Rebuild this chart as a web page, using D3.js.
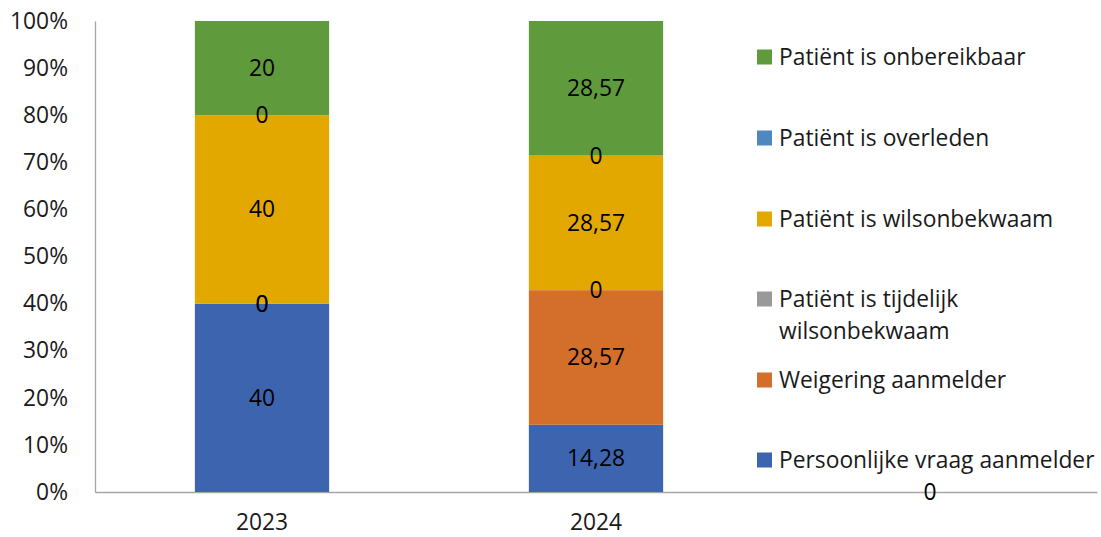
<!DOCTYPE html>
<html><head><meta charset="utf-8">
<script src="https://cdn.jsdelivr.net/npm/d3@7"></script>
<style>body{margin:0;background:#fff}svg{display:block;font-family:"Open Sans",sans-serif}</style>
</head><body><svg id="c" width="1101" height="537"></svg>
<script>
const categories = ["2023", "2024", ""];
const seriesNames = ["Persoonlijke vraag aanmelder", "Weigering aanmelder", "Patiënt is tijdelijk wilsonbekwaam", "Patiënt is wilsonbekwaam", "Patiënt is overleden", "Patiënt is onbereikbaar"];
const persoonlijke = [40, 14.28, 0];
const weigering = [0, 28.57, null];
const tijdelijk = [0, 0, null];
const wilsonbekwaam = [40, 28.57, null];
const overleden = [0, 0, null];
const onbereikbaar = [20, 28.57, null];
const valueLabels = [["40","14,28","0"],["0","28,57",""],["0","0",""],["40","28,57",""],["0","0",""],["20","28,57",""]];
const colors = ["#3d64ae", "#d46e2b", "#999999", "#e2a800", "#4f88c0", "#5f9a3c"];
const yTicks = [0, 0.1, 0.2, 0.3, 0.4, 0.5, 0.6, 0.7, 0.8, 0.9, 1];

const FONT = "'Open Sans',sans-serif";
const FS = 22.8;
const allSeries = [persoonlijke, weigering, tijdelijk, wilsonbekwaam, overleden, onbereikbaar];
const svg = d3.select("#c");
const L = 95, R = 1097, T = 21, B = 492;
const x = d3.scaleBand().domain(categories).range([L, R]).paddingInner(0.598).paddingOuter(0.299);
const y = d3.scaleLinear().domain([0, 1]).range([B, T]);

const rows = categories.map((c, i) => {
  const vals = allSeries.map(s => s[i] == null ? 0 : s[i]);
  const tot = d3.sum(vals);
  let acc = 0;
  return allSeries.map((s, k) => {
    const p = tot > 0 ? vals[k] / tot : 0;
    const r = {cat: c, k, y0: acc, y1: acc + p, has: s[i] != null, label: valueLabels[k][i]};
    acc += p;
    return r;
  });
});

const yAxis = svg.append("g").attr("transform", `translate(${L},0)`)
  .call(d3.axisLeft(y).tickValues(yTicks).tickFormat(d3.format(".0%")).tickSize(0).tickPadding(27));
yAxis.select(".domain").attr("stroke", "#a6a6a6").attr("stroke-width", 1.3);
yAxis.selectAll("text").attr("font-size", FS).attr("fill", "#1a1a1a").attr("font-family", FONT);

const xAxis = svg.append("g").attr("transform", `translate(0,${B})`)
  .call(d3.axisBottom(x).tickSize(0).tickPadding(22));
xAxis.select(".domain").attr("stroke", "#a6a6a6").attr("stroke-width", 1.3);
xAxis.selectAll("text").attr("font-size", FS).attr("fill", "#1a1a1a").attr("font-family", FONT);

rows.forEach(row => {
  svg.append("g").selectAll("rect").data(row.filter(d => d.y1 > d.y0)).join("rect")
    .attr("x", d => x(d.cat)).attr("width", x.bandwidth())
    .attr("y", d => y(d.y1)).attr("height", d => y(d.y0) - y(d.y1))
    .attr("fill", d => colors[d.k]);
});

const legendItems = [
  {k: 5, lines: ["Patiënt is onbereikbaar"], cy: 57},
  {k: 4, lines: ["Patiënt is overleden"], cy: 138},
  {k: 3, lines: ["Patiënt is wilsonbekwaam"], cy: 219},
  {k: 2, lines: ["Patiënt is tijdelijk", "wilsonbekwaam"], cy: 299},
  {k: 1, lines: ["Weigering aanmelder"], cy: 380},
  {k: 0, lines: ["Persoonlijke vraag aanmelder"], cy: 460}
];
const lg = svg.append("g");
legendItems.forEach(it => {
  lg.append("rect").attr("x", 757).attr("y", it.cy - 7.5).attr("width", 15).attr("height", 15).attr("fill", colors[it.k]);
  it.lines.forEach((t, j) => {
    lg.append("text").attr("x", 779).attr("y", it.cy + 8 + j * 32).attr("font-size", FS).attr("fill", "#1a1a1a").attr("font-family", FONT).text(t);
  });
});

rows.forEach(row => {
  svg.append("g").selectAll("text").data(row.filter(d => d.has && d.label !== "")).join("text")
    .attr("x", d => x(d.cat) + x.bandwidth() / 2)
    .attr("y", d => y((d.y0 + d.y1) / 2) + 8)
    .attr("text-anchor", "middle").attr("font-size", FS).attr("fill", "#000").attr("font-family", FONT)
    .text(d => d.label);
});
</script></body></html>
